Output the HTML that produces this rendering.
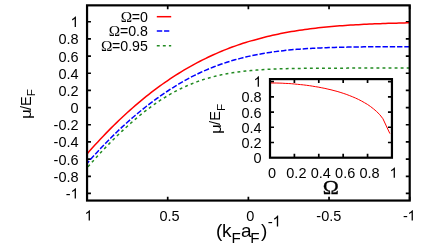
<!DOCTYPE html>
<html><head><meta charset="utf-8"><title>plot</title>
<style>
html,body{margin:0;padding:0;background:#fff;}
svg{display:block;will-change:transform;}
text{font-family:"Liberation Sans",sans-serif;fill:#000;}
.sy{font-family:"Liberation Serif",serif;}
</style></head><body>
<svg width="436" height="244" viewBox="0 0 436 244">
<rect x="0" y="0" width="436" height="244" fill="#fff"/>
<defs><path id="g1" d="M.3726 0H.2847V.5601Q.2529 .5298 .2014 .4995T.1089 .4541V.5391Q.1821 .5735 .2371 .6226T.3159 .7178H.3726Z" fill="#000"/></defs>
<g stroke="#000" stroke-width="1.7" fill="none">
<path d="M87.05 21.75h3.9M409.7 21.75h-3.9"/>
<path d="M87.05 38.92h3.9M409.7 38.92h-3.9"/>
<path d="M87.05 56.09h3.9M409.7 56.09h-3.9"/>
<path d="M87.05 73.26h3.9M409.7 73.26h-3.9"/>
<path d="M87.05 90.43h3.9M409.7 90.43h-3.9"/>
<path d="M87.05 107.60h3.9M409.7 107.60h-3.9"/>
<path d="M87.05 124.77h3.9M409.7 124.77h-3.9"/>
<path d="M87.05 141.94h3.9M409.7 141.94h-3.9"/>
<path d="M87.05 159.11h3.9M409.7 159.11h-3.9"/>
<path d="M87.05 176.28h3.9M409.7 176.28h-3.9"/>
<path d="M87.05 193.45h3.9M409.7 193.45h-3.9"/>
<path d="M87.05 200.55v-3.9M87.05 5.35v3.9"/>
<path d="M167.71 200.55v-3.9M167.71 5.35v3.9"/>
<path d="M248.38 200.55v-3.9M248.38 5.35v3.9"/>
<path d="M329.04 200.55v-3.9M329.04 5.35v3.9"/>
<path d="M409.70 200.55v-3.9M409.70 5.35v3.9"/>
</g>
<clipPath id="c"><rect x="87.05" y="5.35" width="322.65" height="195.20000000000002"/></clipPath>
<g clip-path="url(#c)" fill="none" stroke-width="1.5">
<polyline points="409.70,22.81 407.01,22.87 404.32,22.93 401.63,23.00 398.94,23.06 396.26,23.14 393.57,23.21 390.88,23.29 388.19,23.37 385.50,23.46 382.81,23.55 380.12,23.65 377.44,23.75 374.75,23.86 372.06,23.98 369.37,24.09 366.68,24.22 363.99,24.35 361.30,24.49 358.61,24.63 355.93,24.79 353.24,24.94 350.55,25.11 347.86,25.29 345.17,25.47 342.48,25.67 339.79,25.87 337.10,26.08 334.41,26.30 331.73,26.54 329.04,26.78 326.35,27.04 323.66,27.30 320.97,27.58 318.28,27.87 315.59,28.18 312.90,28.50 310.22,28.83 307.53,29.18 304.84,29.55 302.15,29.92 299.46,30.32 296.77,30.73 294.08,31.16 291.39,31.61 288.71,32.08 286.02,32.56 283.33,33.07 280.64,33.60 277.95,34.14 275.26,34.71 272.57,35.31 269.88,35.93 267.20,36.57 264.51,37.25 261.82,37.97 259.13,38.74 256.44,39.47 253.75,40.16 251.06,40.87 248.38,41.62 245.69,42.45 243.00,43.32 240.31,44.23 237.62,45.15 234.93,46.09 232.24,47.06 229.55,48.07 226.87,49.10 224.18,50.17 221.49,51.27 218.80,52.40 216.11,53.57 213.42,54.76 210.73,56.00 208.04,57.26 205.36,58.56 202.67,59.89 199.98,61.26 197.29,62.66 194.60,64.10 191.91,65.58 189.22,67.09 186.53,68.64 183.85,70.22 181.16,71.84 178.47,73.50 175.78,75.20 173.09,76.93 170.40,78.71 167.71,80.52 165.02,82.37 162.34,84.26 159.65,86.19 156.96,88.16 154.27,90.17 151.58,92.21 148.89,94.30 146.20,96.43 143.51,98.60 140.82,100.82 138.14,103.07 135.45,105.36 132.76,107.70 130.07,110.07 127.38,112.49 124.69,114.95 122.00,117.45 119.31,120.00 116.63,122.59 113.94,125.22 111.25,127.89 108.56,130.60 105.87,133.36 103.18,136.16 100.49,139.01 97.81,141.90 95.12,144.83 92.43,147.80 89.74,150.82 87.05,153.88" stroke="#ff0000"/>
<polyline points="409.70,46.65 407.01,46.65 404.32,46.65 401.63,46.66 398.94,46.66 396.26,46.67 393.57,46.67 390.88,46.68 388.19,46.68 385.50,46.69 382.81,46.70 380.12,46.72 377.44,46.74 374.75,46.76 372.06,46.78 369.37,46.80 366.68,46.83 363.99,46.86 361.30,46.89 358.61,46.93 355.93,46.97 353.24,47.01 350.55,47.06 347.86,47.10 345.17,47.16 342.48,47.22 339.79,47.28 337.10,47.35 334.41,47.43 331.73,47.51 329.04,47.59 326.35,47.69 323.66,47.79 320.97,47.90 318.28,48.02 315.59,48.15 312.90,48.29 310.22,48.44 307.53,48.60 304.84,48.77 302.15,48.95 299.46,49.15 296.77,49.36 294.08,49.58 291.39,49.82 288.71,50.08 286.02,50.35 283.33,50.65 280.64,50.95 277.95,51.28 275.26,51.63 272.57,52.00 269.88,52.40 267.20,52.82 264.51,53.26 261.82,53.73 259.13,54.24 256.44,54.79 253.75,55.30 251.06,55.83 248.38,56.39 245.69,57.01 243.00,57.67 240.31,58.36 237.62,59.07 234.93,59.82 232.24,60.59 229.55,61.41 226.87,62.26 224.18,63.14 221.49,64.06 218.80,65.01 216.11,66.00 213.42,67.03 210.73,68.10 208.04,69.20 205.36,70.34 202.67,71.53 199.98,72.75 197.29,74.02 194.60,75.33 191.91,76.69 189.22,78.10 186.53,79.56 183.85,81.06 181.16,82.61 178.47,84.20 175.78,85.84 173.09,87.52 170.40,89.24 167.71,91.00 165.02,92.80 162.34,94.64 159.65,96.52 156.96,98.44 154.27,100.39 151.58,102.38 148.89,104.41 146.20,106.49 143.51,108.60 140.82,110.76 138.14,112.97 135.45,115.22 132.76,117.52 130.07,119.86 127.38,122.24 124.69,124.67 122.00,127.15 119.31,129.67 116.63,132.23 113.94,134.84 111.25,137.49 108.56,140.19 105.87,142.93 103.18,145.72 100.49,148.56 97.81,151.43 95.12,154.36 92.43,157.33 89.74,160.34 87.05,163.40" stroke="#0000ff" stroke-dasharray="5.4 1.86" stroke-dashoffset="0"/>
<polyline points="409.70,68.09 407.01,68.10 404.32,68.10 401.63,68.10 398.94,68.10 396.26,68.10 393.57,68.10 390.88,68.10 388.19,68.10 385.50,68.10 382.81,68.10 380.12,68.10 377.44,68.10 374.75,68.10 372.06,68.10 369.37,68.10 366.68,68.11 363.99,68.11 361.30,68.11 358.61,68.11 355.93,68.11 353.24,68.11 350.55,68.12 347.86,68.12 345.17,68.13 342.48,68.13 339.79,68.14 337.10,68.15 334.41,68.15 331.73,68.16 329.04,68.17 326.35,68.19 323.66,68.20 320.97,68.21 318.28,68.23 315.59,68.25 312.90,68.27 310.22,68.29 307.53,68.32 304.84,68.35 302.15,68.38 299.46,68.42 296.77,68.46 294.08,68.51 291.39,68.56 288.71,68.62 286.02,68.69 283.33,68.76 280.64,68.84 277.95,68.93 275.26,69.03 272.57,69.14 269.88,69.26 267.20,69.39 264.51,69.54 261.82,69.71 259.13,69.89 256.44,70.09 253.75,70.31 251.06,70.53 248.38,70.77 245.69,71.05 243.00,71.35 240.31,71.68 237.62,72.03 234.93,72.41 232.24,72.82 229.55,73.26 226.87,73.74 224.18,74.25 221.49,74.80 218.80,75.39 216.11,76.02 213.42,76.69 210.73,77.40 208.04,78.16 205.36,78.96 202.67,79.81 199.98,80.71 197.29,81.66 194.60,82.65 191.91,83.71 189.22,84.81 186.53,85.97 183.85,87.18 181.16,88.45 178.47,89.78 175.78,91.16 173.09,92.60 170.40,94.10 167.71,95.66 165.02,97.28 162.34,98.96 159.65,100.70 156.96,102.51 154.27,104.37 151.58,106.30 148.89,108.28 146.20,110.33 143.51,112.43 140.82,114.60 138.14,116.81 135.45,119.08 132.76,121.40 130.07,123.77 127.38,126.19 124.69,128.65 122.00,131.16 119.31,133.71 116.63,136.30 113.94,138.94 111.25,141.62 108.56,144.35 105.87,147.12 103.18,149.95 100.49,152.82 97.81,155.74 95.12,158.71 92.43,161.73 89.74,164.80 87.05,167.93" stroke="#228b22" stroke-dasharray="2.9 3.15" stroke-dashoffset="5.95"/>
</g>
<rect x="87.05" y="5.35" width="322.65" height="195.20" fill="none" stroke="#000" stroke-width="2.2"/>
<g font-size="14.5">
<use href="#g1" transform="translate(70.54 26.90) scale(14.5 -14.5)"/>
<text x="78.60" y="44.42" text-anchor="end">0.8</text>
<text x="78.60" y="61.59" text-anchor="end">0.6</text>
<text x="78.60" y="78.76" text-anchor="end">0.4</text>
<text x="78.60" y="95.93" text-anchor="end">0.2</text>
<text x="78.60" y="113.10" text-anchor="end">0</text>
<text x="78.60" y="130.27" text-anchor="end">-0.2</text>
<text x="78.60" y="147.44" text-anchor="end">-0.4</text>
<text x="78.60" y="164.61" text-anchor="end">-0.6</text>
<text x="78.60" y="181.78" text-anchor="end">-0.8</text>
<text x="65.71" y="198.95">-</text><use href="#g1" transform="translate(70.54 198.60) scale(14.5 -14.5)"/>
<use href="#g1" transform="translate(84.52 220.60) scale(14.5 -14.5)"/>
<text x="169.61" y="220.60" text-anchor="middle">0.5</text>
<text x="250.28" y="220.60" text-anchor="middle">0</text>
<text x="328.84" y="220.60" text-anchor="middle">-0.5</text>
<text x="403.05" y="220.60">-</text><use href="#g1" transform="translate(407.48 220.60) scale(14.5 -14.5)"/>
</g>
<text x="147.9" y="21.90" text-anchor="end" font-size="14.2"><tspan class="sy" font-size="15.3">Ω</tspan><tspan dx="-0.3">=0</tspan></text>
<path d="M156.8 16.7h14.4" stroke="#ff0000" stroke-width="1.5" fill="none"/>
<text x="147.9" y="36.20" text-anchor="end" font-size="14.2"><tspan class="sy" font-size="15.3">Ω</tspan><tspan dx="-0.3">=0.8</tspan></text>
<path d="M156.8 31.1h12.5" stroke="#0000ff" stroke-width="1.5" fill="none" stroke-dasharray="5.4 1.86"/>
<text x="147.9" y="50.50" text-anchor="end" font-size="14.2"><tspan class="sy" font-size="15.3">Ω</tspan><tspan dx="-0.3">=0.95</tspan></text>
<path d="M156.8 45.85h14.4" stroke="#228b22" stroke-width="1.5" fill="none" stroke-dasharray="2.9 3.15"/>
<g transform="translate(30.9 118.4) rotate(-90) scale(1 1.0)">
<text transform="scale(1.19 1)" x="-0.34" y="0.50" font-size="14.02">μ</text>
<text x="8.41" y="0" font-size="14.6">/E</text>
<text x="22.21" y="4.20" font-size="11.68">F</text>
</g>
<text y="236.9" font-size="19"><tspan x="216.0">(</tspan><tspan x="221.9">k</tspan><tspan x="231.6" y="242.8" font-size="15.2">F</tspan><tspan x="241.0" y="236.9">a</tspan><tspan x="250.3" y="242.7" font-size="15.2">F</tspan><tspan x="261.1" y="236.9">)</tspan><tspan x="267.7" y="226.7" font-size="15.2">-</tspan></text>
<use href="#g1" transform="translate(272.50 226.50) scale(15.2 -15.2)"/>
<g stroke="#000" stroke-width="1.7" fill="none">
<path d="M270.0 142.48h4.0M391.95 142.48h-4.0M294.39 157.7v-4.0M294.39 79.1v4.0"/>
<path d="M270.0 127.26h4.0M391.95 127.26h-4.0M318.78 157.7v-4.0M318.78 79.1v4.0"/>
<path d="M270.0 112.04h4.0M391.95 112.04h-4.0M343.17 157.7v-4.0M343.17 79.1v4.0"/>
<path d="M270.0 96.82h4.0M391.95 96.82h-4.0M367.56 157.7v-4.0M367.56 79.1v4.0"/>
<path d="M270.0 81.60h4.0M391.95 81.60h-4.0"/>
</g>
<polyline points="270.0,83.0 273.0,83.0 276.1,83.0 279.1,83.1 282.2,83.2 285.2,83.4 288.3,83.5 291.3,83.7 294.4,84.0 297.4,84.3 300.5,84.6 303.5,84.9 306.6,85.3 309.6,85.7 312.7,86.2 315.7,86.7 318.8,87.2 321.8,87.8 324.9,88.4 327.9,89.1 331.0,89.8 334.0,90.6 337.1,91.4 340.1,92.3 343.2,93.3 346.2,94.3 349.3,95.5 352.3,96.7 355.4,98.0 358.4,99.4 361.5,101.0 364.5,102.7 367.6,104.5 370.6,106.6 373.7,109.0 376.7,111.6 379.8,114.7 382.9,118.7 389.9,133.6" stroke="#ff0000" stroke-width="1" fill="none"/>
<rect x="270.0" y="79.1" width="121.95" height="78.60" fill="none" stroke="#000" stroke-width="2.2"/>
<g font-size="14.5">
<text x="261.60" y="163.20" text-anchor="end">0</text>
<text x="272.00" y="177.80" text-anchor="middle">0</text>
<text x="261.60" y="147.98" text-anchor="end">0.2</text>
<text x="296.39" y="177.80" text-anchor="middle">0.2</text>
<text x="261.60" y="132.76" text-anchor="end">0.4</text>
<text x="320.78" y="177.80" text-anchor="middle">0.4</text>
<text x="261.60" y="117.54" text-anchor="end">0.6</text>
<text x="345.17" y="177.80" text-anchor="middle">0.6</text>
<text x="261.60" y="102.32" text-anchor="end">0.8</text>
<text x="369.56" y="177.80" text-anchor="middle">0.8</text>
<use href="#g1" transform="translate(253.54 86.75) scale(14.5 -14.5)"/>
<use href="#g1" transform="translate(389.52 177.80) scale(14.5 -14.5)"/>
</g>
<text transform="translate(330.9 194) scale(1.12 1)" text-anchor="middle" font-size="19.4" class="sy" stroke="#000" stroke-width="0.3">Ω</text>
<g transform="translate(220.3 133.3) rotate(-90) scale(1 1.0)">
<text transform="scale(1.19 1)" x="-0.34" y="0.50" font-size="14.02">μ</text>
<text x="8.41" y="0" font-size="14.6">/E</text>
<text x="22.21" y="4.20" font-size="11.68">F</text>
</g>
</svg></body></html>
